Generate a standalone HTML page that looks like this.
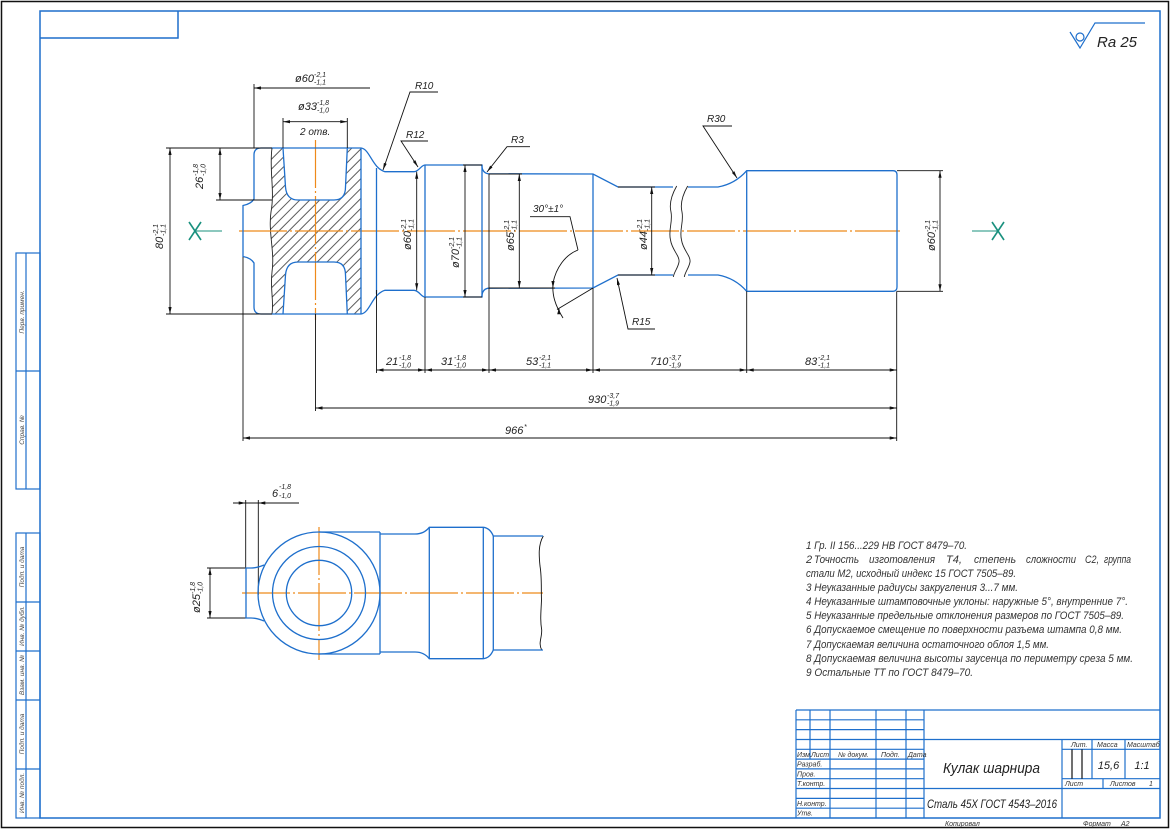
<!DOCTYPE html>
<html><head><meta charset="utf-8"><style>
html,body{margin:0;padding:0;background:#fff}
svg{display:block}
text{font-family:"Liberation Sans",sans-serif;font-style:italic;fill:#222}
.d{font-size:11px}
.t{font-size:7px}
.r{font-size:10px}
.n{font-size:11px;fill:#333}
.s{font-size:6.5px;fill:#444}
.tb{font-size:7px;fill:#333}
</style></head><body>
<svg width="1172" height="830" viewBox="0 0 1172 830" xmlns="http://www.w3.org/2000/svg">
<defs>
<pattern id="hatch" width="7" height="7" patternUnits="userSpaceOnUse" patternTransform="rotate(45)">
<line x1="3.5" y1="-1" x2="3.5" y2="8" stroke="#333" stroke-width="0.8"/>
</pattern>
<path id="up" d="M243,231 L243,205.5 Q251,204 254,199 L254,155 Q254,148 261,148 L361,148 C370,149 372,168 385,171.7 L414,171.7 C419,171.7 421,165 425,165 L482,165 L482,167 Q483,173.5 489,173.8 L593,174 L618,187 L673,187 M688,187 L718,187 Q735,184 746.7,170.7 L893,170.7 Q897,170.7 897,175 L897,231"/>
<path id="hole" d="M283,148 L285.5,187 Q286.5,200 298,200 L334,200 Q345.5,200 345.5,187 L347.3,148"/>
<path id="brk" d="M676.7,186 C671,196 669,204 671,212 C673,222 668,230 670.5,240 C672,250 680,256 679,262 C678,268 674,272 673.3,277"/>
</defs>
<rect width="1172" height="830" fill="#fff"/>

<!-- frames -->
<rect x="1.5" y="1.5" width="1167" height="826" fill="none" stroke="#111" stroke-width="1.5"/>
<rect x="40" y="11" width="1120" height="807" fill="none" stroke="#1e6fcc" stroke-width="1.5"/>
<polyline points="40,38 178,38 178,11" fill="none" stroke="#1e6fcc" stroke-width="1.5"/>

<!-- left stamps -->
<g stroke="#1e6fcc" stroke-width="1.2" fill="none">
<rect x="16" y="253" width="24" height="236"/>
<line x1="26" y1="253" x2="26" y2="489"/>
<line x1="16" y1="371" x2="40" y2="371"/>
<rect x="16" y="533" width="24" height="285"/>
<line x1="26" y1="533" x2="26" y2="818"/>
<line x1="16" y1="602" x2="40" y2="602"/>
<line x1="16" y1="651" x2="40" y2="651"/>
<line x1="16" y1="700" x2="40" y2="700"/>
<line x1="16" y1="769" x2="40" y2="769"/>
</g>
<g text-anchor="middle">
<text class="s" transform="translate(24,312) rotate(-90)">Перв. примен.</text>
<text class="s" transform="translate(24,430) rotate(-90)">Справ. №</text>
<text class="s" transform="translate(24,567) rotate(-90)">Подп. и дата</text>
<text class="s" transform="translate(24,626) rotate(-90)">Инв. № дубл.</text>
<text class="s" transform="translate(24,675) rotate(-90)">Взам. инв. №</text>
<text class="s" transform="translate(24,734) rotate(-90)">Подп. и дата</text>
<text class="s" transform="translate(24,793) rotate(-90)">Инв. № подл.</text>
</g>

<!-- Ra symbol -->
<g stroke="#1e6fcc" stroke-width="1.2" fill="none">
<circle cx="1080" cy="37" r="4"/>
<polyline points="1070,32 1080,48 1095,23 1145,23"/>
</g>
<text x="1097" y="47" style="font-size:15px">Ra 25</text>

<!-- TOP VIEW -->
<path fill="url(#hatch)" fill-rule="evenodd" d="M272,148 C269,170 275,190 271,212 C268,232 275,252 272,272 C270,290 274,300 272,314 L361,314 L361,148 Z M283,148 L285.5,187 Q286.5,200 298,200 L334,200 Q345.5,200 345.5,187 L347.3,148 Z M283,314 L285.5,275 Q286.5,262 298,262 L334,262 Q345.5,262 345.5,275 L347.3,314 Z"/>
<path d="M272,148 C269,170 275,190 271,212 C268,232 275,252 272,272 C270,290 274,300 272,314" fill="none" stroke="#222" stroke-width="0.9"/>

<!-- centerlines -->
<g stroke="#ee8a1a" stroke-width="1.2" stroke-dasharray="48 3 2 3" fill="none">
<line x1="239" y1="231" x2="900" y2="231"/>
<line x1="315.5" y1="140" x2="315.5" y2="320"/>
<line x1="242" y1="593" x2="543" y2="593"/>
<line x1="319" y1="527" x2="319" y2="660"/>
</g>

<g stroke="#1e6fcc" stroke-width="1.3" fill="none">
<use href="#up"/>
<use href="#up" transform="matrix(1 0 0 -1 0 462)"/>
<use href="#hole"/>
<use href="#hole" transform="matrix(1 0 0 -1 0 462)"/>
<line x1="361" y1="148" x2="361" y2="314"/>
<line x1="376.5" y1="168" x2="376.5" y2="294"/>
<line x1="425" y1="165" x2="425" y2="297"/>
<line x1="482" y1="165" x2="482" y2="297"/>
<line x1="593" y1="174" x2="593" y2="288"/>
<line x1="746.7" y1="170.7" x2="746.7" y2="291.3"/>
</g>
<g stroke="#222" stroke-width="0.9" fill="none">
<use href="#brk"/>
<use href="#brk" transform="translate(11,0)"/>
</g>

<!-- X markers -->
<g stroke="#19907e" fill="none">
<line x1="195" y1="231" x2="222" y2="231" stroke-width="1"/>
<line x1="189" y1="222" x2="201" y2="240" stroke-width="1.6"/>
<line x1="201" y1="222" x2="189" y2="240" stroke-width="1.6"/>
<line x1="972" y1="231" x2="998" y2="231" stroke-width="1"/>
<line x1="992" y1="222" x2="1004" y2="240" stroke-width="1.6"/>
<line x1="1004" y1="222" x2="992" y2="240" stroke-width="1.6"/>
</g>

<!-- dimension lines (black) -->
<g stroke="#111" stroke-width="0.9" fill="none">
<line x1="166" y1="148" x2="272" y2="148"/>
<line x1="166" y1="314" x2="272" y2="314"/>
<line x1="216" y1="200" x2="272" y2="200"/>
<line x1="170" y1="148" x2="170" y2="314"/>
<line x1="220" y1="148" x2="220" y2="200"/>
<line x1="254" y1="84" x2="254" y2="148"/>
<line x1="254" y1="88" x2="370" y2="88"/>
<line x1="283" y1="118" x2="283" y2="148"/>
<line x1="347.3" y1="118" x2="347.3" y2="148"/>
<line x1="283" y1="121.7" x2="347.3" y2="121.7"/>
<line x1="416.7" y1="171.7" x2="416.7" y2="290.3"/>
<line x1="463" y1="165" x2="482" y2="165"/>
<line x1="463" y1="297" x2="482" y2="297"/>
<line x1="465" y1="165" x2="465" y2="297"/>
<line x1="489" y1="174" x2="522" y2="174"/>
<line x1="489" y1="288" x2="555" y2="288"/>
<line x1="519.3" y1="174" x2="519.3" y2="288"/>
<line x1="618" y1="187" x2="655" y2="187"/>
<line x1="618" y1="275" x2="655" y2="275"/>
<line x1="651.7" y1="187" x2="651.7" y2="275"/>
<line x1="897" y1="170.7" x2="943" y2="170.7"/>
<line x1="897" y1="291.3" x2="943" y2="291.3"/>
<line x1="940" y1="170.7" x2="940" y2="291.3"/>
<line x1="376.5" y1="290" x2="376.5" y2="373"/>
<line x1="425" y1="297" x2="425" y2="373"/>
<line x1="489" y1="174" x2="489" y2="373"/>
<line x1="593" y1="288" x2="593" y2="373"/>
<line x1="746.7" y1="291.3" x2="746.7" y2="373"/>
<line x1="896.7" y1="291.3" x2="896.7" y2="441"/>
<line x1="315.5" y1="314" x2="315.5" y2="411"/>
<line x1="243" y1="257" x2="243" y2="441"/>
<line x1="376.5" y1="370" x2="896.7" y2="370"/>
<line x1="315.5" y1="408" x2="896.7" y2="408"/>
<line x1="243" y1="438" x2="896.7" y2="438"/>
<polyline points="438,92 410,92 383,170"/>
<polyline points="428,141 401,141 418,167"/>
<polyline points="530,146.7 507,146.7 487,172"/>
<polyline points="732,126 703,126 737,178"/>
<polyline points="655,329 628,329 617,278"/>
<polyline points="530,216.7 570,216.7 578,250"/>
<path d="M578,250 C565,255 556,268 553,283 C552,295 555,305 563,318"/>
<line x1="593" y1="288" x2="557" y2="309.5"/>
<line x1="245.7" y1="500" x2="245.7" y2="568"/>
<line x1="258.3" y1="500" x2="258.3" y2="595"/>
<line x1="233" y1="503" x2="299" y2="503"/>
<line x1="207" y1="568" x2="246" y2="568"/>
<line x1="207" y1="618" x2="246" y2="618"/>
<line x1="210" y1="568" x2="210" y2="618"/>
<path d="M543.3,536 C538,545 539,556 540,566 C542,578 541,590 541.5,600 C541,612 540,620 541.7,630 C542,638 538,643 541.7,650"/>
</g>

<!-- arrows -->
<g fill="#111" stroke="none">
<path d="M170,148 L168.4,155 L171.6,155 Z M170,314 L168.4,307 L171.6,307 Z"/>
<path d="M220,148 L218.4,155 L221.6,155 Z M220,200 L218.4,193 L221.6,193 Z"/>
<path d="M416.7,171.7 L415.1,178.7 L418.3,178.7 Z M416.7,290.3 L415.1,283.3 L418.3,283.3 Z"/>
<path d="M465,165 L463.4,172 L466.6,172 Z M465,297 L463.4,290 L466.6,290 Z"/>
<path d="M519.3,174 L517.7,181 L520.9,181 Z M519.3,288 L517.7,281 L520.9,281 Z"/>
<path d="M651.7,187 L650.1,194 L653.3,194 Z M651.7,275 L650.1,268 L653.3,268 Z"/>
<path d="M940,170.7 L938.4,177.7 L941.6,177.7 Z M940,291.3 L938.4,284.3 L941.6,284.3 Z"/>
<path d="M210,568 L208.4,575 L211.6,575 Z M210,618 L208.4,611 L211.6,611 Z"/>
<path d="M254,88 L261,86.4 L261,89.6 Z"/>
<path d="M283,121.7 L290,120.1 L290,123.3 Z M347.3,121.7 L340.3,120.1 L340.3,123.3 Z"/>
<path d="M376.5,370 L383.5,368.4 L383.5,371.6 Z M425,370 L418,368.4 L418,371.6 Z"/>
<path d="M425,370 L432,368.4 L432,371.6 Z M489,370 L482,368.4 L482,371.6 Z"/>
<path d="M489,370 L496,368.4 L496,371.6 Z M593,370 L586,368.4 L586,371.6 Z"/>
<path d="M593,370 L600,368.4 L600,371.6 Z M746.7,370 L739.7,368.4 L739.7,371.6 Z"/>
<path d="M746.7,370 L753.7,368.4 L753.7,371.6 Z M896.7,370 L889.7,368.4 L889.7,371.6 Z"/>
<path d="M315.5,408 L322.5,406.4 L322.5,409.6 Z M896.7,408 L889.7,406.4 L889.7,409.6 Z"/>
<path d="M243,438 L250,436.4 L250,439.6 Z M896.7,438 L889.7,436.4 L889.7,439.6 Z"/>
<path d="M245.7,503 L238.7,501.4 L238.7,504.6 Z M258.3,503 L265.3,501.4 L265.3,504.6 Z"/>
<path d="M383,170 L383.9,162.9 L386.7,163.9 Z"/>
<path d="M418,167 L412.9,161.9 L415.4,160.3 Z"/>
<path d="M487,172 L490.2,165.6 L492.5,167.4 Z"/>
<path d="M737,178 L731.9,172.9 L734.4,171.3 Z"/>
<path d="M617,278 L620,284.5 L617,285.2 Z"/>
<path d="M553,288 L551.4,281 L554.6,281 Z"/>
<path d="M559,307.5 L557.2,314.3 L560.6,314.3 Z"/>
</g>

<!-- dimension texts -->
<g transform="translate(295,82)"><text class="d">ø60</text><text class="t" x="19" y="-5">-2,1</text><text class="t" x="19" y="2.5">-1,1</text></g>
<g transform="translate(298,110)"><text class="d">ø33</text><text class="t" x="19" y="-5">-1,8</text><text class="t" x="19" y="2.5">-1,0</text></g>
<text class="r" x="300" y="135">2 отв.</text>
<g transform="translate(386,365)"><text class="d">21</text><text class="t" x="13" y="-5">-1,8</text><text class="t" x="13" y="2.5">-1,0</text></g>
<g transform="translate(441,365)"><text class="d">31</text><text class="t" x="13" y="-5">-1,8</text><text class="t" x="13" y="2.5">-1,0</text></g>
<g transform="translate(526,365)"><text class="d">53</text><text class="t" x="13" y="-5">-2,1</text><text class="t" x="13" y="2.5">-1,1</text></g>
<g transform="translate(650,365)"><text class="d">710</text><text class="t" x="19" y="-5">-3,7</text><text class="t" x="19" y="2.5">-1,9</text></g>
<g transform="translate(805,365)"><text class="d">83</text><text class="t" x="13" y="-5">-2,1</text><text class="t" x="13" y="2.5">-1,1</text></g>
<g transform="translate(588,403)"><text class="d">930</text><text class="t" x="19" y="-5">-3,7</text><text class="t" x="19" y="2.5">-1,9</text></g>
<text class="d" x="505" y="434">966</text><text class="t" x="524" y="429">*</text>
<g transform="translate(272,497)"><text class="d">6</text><text class="t" x="7" y="-8">-1,8</text><text class="t" x="7" y="1">-1,0</text></g>

<g transform="translate(163,249) rotate(-90)"><text class="d">80</text><text class="t" x="13" y="-5">-2,1</text><text class="t" x="13" y="2.5">-1,1</text></g>
<g transform="translate(203,189) rotate(-90)"><text class="d">26</text><text class="t" x="13" y="-5">-1,8</text><text class="t" x="13" y="2.5">-1,0</text></g>
<g transform="translate(411,250) rotate(-90)"><text class="d">ø60</text><text class="t" x="19" y="-5">-2,1</text><text class="t" x="19" y="2.5">-1,1</text></g>
<g transform="translate(459,268) rotate(-90)"><text class="d">ø70</text><text class="t" x="19" y="-5">-2,1</text><text class="t" x="19" y="2.5">-1,1</text></g>
<g transform="translate(514,251) rotate(-90)"><text class="d">ø65</text><text class="t" x="19" y="-5">-2,1</text><text class="t" x="19" y="2.5">-1,1</text></g>
<g transform="translate(647,250) rotate(-90)"><text class="d">ø44</text><text class="t" x="19" y="-5">-2,1</text><text class="t" x="19" y="2.5">-1,1</text></g>
<g transform="translate(935,251) rotate(-90)"><text class="d">ø60</text><text class="t" x="19" y="-5">-2,1</text><text class="t" x="19" y="2.5">-1,1</text></g>
<g transform="translate(200,613) rotate(-90)"><text class="d">ø25</text><text class="t" x="19" y="-5">-1,8</text><text class="t" x="19" y="2.5">-1,0</text></g>

<text class="r" x="415" y="89">R10</text>
<text class="r" x="406" y="138">R12</text>
<text class="r" x="511" y="143">R3</text>
<text class="r" x="707" y="122">R30</text>
<text class="r" x="632" y="325">R15</text>
<text class="r" x="533" y="212">30°±1°</text>

<!-- LOWER VIEW -->
<g stroke="#1e6fcc" stroke-width="1.3" fill="none">
<circle cx="319" cy="593" r="61"/>
<circle cx="319" cy="593" r="46.5"/>
<circle cx="319" cy="593" r="32.7"/>
<line x1="319" y1="532" x2="380" y2="532"/>
<line x1="319" y1="654" x2="380" y2="654"/>
<line x1="380" y1="532" x2="380" y2="654"/>
<path d="M264,565 Q257,568 251,568 L246,568 L246,618 L251,618 Q257,618 264,621"/>
<path d="M380,534 L415,534 Q424,534 429.3,527.3 L483.3,527.3 Q490,528 493.3,536 L543,536"/>
<path d="M380,652 L415,652 Q424,652 429.3,658.7 L483.3,658.7 Q490,658 493.3,650 L543,650"/>
<line x1="429.3" y1="527.3" x2="429.3" y2="658.7"/>
<line x1="483.3" y1="527.3" x2="483.3" y2="658.7"/>
<line x1="493.3" y1="536" x2="493.3" y2="650"/>
</g>

<!-- NOTES -->
<text class="n" x="806" y="549" textLength="161" lengthAdjust="spacingAndGlyphs">1 Гр. II 156...229 НВ ГОСТ 8479–70.</text>
<text class="n" x="806" y="563">2</text>
<text class="n" x="814" y="563" textLength="45" lengthAdjust="spacingAndGlyphs">Точность</text>
<text class="n" x="869" y="563" textLength="66" lengthAdjust="spacingAndGlyphs">изготовления</text>
<text class="n" x="946" y="563" textLength="16" lengthAdjust="spacingAndGlyphs">Т4,</text>
<text class="n" x="974" y="563" textLength="42" lengthAdjust="spacingAndGlyphs">степень</text>
<text class="n" x="1026" y="563" textLength="50" lengthAdjust="spacingAndGlyphs">сложности</text>
<text class="n" x="1085" y="563" textLength="14" lengthAdjust="spacingAndGlyphs">С2,</text>
<text class="n" x="1104" y="563" textLength="27" lengthAdjust="spacingAndGlyphs">группа</text>
<text class="n" x="806" y="577" textLength="210" lengthAdjust="spacingAndGlyphs">стали М2, исходный индекс 15 ГОСТ 7505–89.</text>
<text class="n" x="806" y="591" textLength="212" lengthAdjust="spacingAndGlyphs">3 Неуказанные радиусы закругления 3...7 мм.</text>
<text class="n" x="806" y="605" textLength="322" lengthAdjust="spacingAndGlyphs">4 Неуказанные штамповочные уклоны: наружные 5°, внутренние 7°.</text>
<text class="n" x="806" y="619" textLength="318" lengthAdjust="spacingAndGlyphs">5 Неуказанные предельные отклонения размеров по ГОСТ 7505–89.</text>
<text class="n" x="806" y="633" textLength="316" lengthAdjust="spacingAndGlyphs">6 Допускаемое смещение по поверхности разъема штампа 0,8 мм.</text>
<text class="n" x="806" y="648" textLength="243" lengthAdjust="spacingAndGlyphs">7 Допускаемая величина остаточного облоя 1,5 мм.</text>
<text class="n" x="806" y="662" textLength="327" lengthAdjust="spacingAndGlyphs">8 Допускаемая величина высоты заусенца по периметру среза 5 мм.</text>
<text class="n" x="806" y="676" textLength="167" lengthAdjust="spacingAndGlyphs">9 Остальные ТТ по ГОСТ 8479–70.</text>

<!-- TITLE BLOCK -->
<g stroke="#1e6fcc" stroke-width="1.2" fill="none">
<line x1="796" y1="710" x2="1160" y2="710"/>
<line x1="796" y1="710" x2="796" y2="818"/>
<line x1="796" y1="719.8" x2="924" y2="719.8"/>
<line x1="796" y1="729.6" x2="924" y2="729.6"/>
<line x1="796" y1="739.5" x2="1160" y2="739.5"/>
<line x1="796" y1="749.3" x2="924" y2="749.3"/>
<line x1="1062" y1="749.3" x2="1160" y2="749.3"/>
<line x1="796" y1="759.1" x2="924" y2="759.1"/>
<line x1="796" y1="768.9" x2="924" y2="768.9"/>
<line x1="796" y1="778.7" x2="924" y2="778.7"/>
<line x1="1062" y1="778.7" x2="1160" y2="778.7"/>
<line x1="796" y1="788.5" x2="1160" y2="788.5"/>
<line x1="796" y1="798.4" x2="924" y2="798.4"/>
<line x1="796" y1="808.2" x2="924" y2="808.2"/>
<line x1="810" y1="710" x2="810" y2="759.1"/>
<line x1="830" y1="710" x2="830" y2="818"/>
<line x1="876" y1="710" x2="876" y2="818"/>
<line x1="906" y1="710" x2="906" y2="818"/>
<line x1="924" y1="710" x2="924" y2="818"/>
<line x1="1062" y1="739.5" x2="1062" y2="818"/>
<line x1="1092" y1="739.5" x2="1092" y2="778.7"/>
<line x1="1125" y1="739.5" x2="1125" y2="778.7"/>
<line x1="1103" y1="778.7" x2="1103" y2="788.5"/>
</g>
<g stroke="#111" stroke-width="1.2">
<line x1="1072" y1="749.3" x2="1072" y2="778.7"/>
<line x1="1082" y1="749.3" x2="1082" y2="778.7"/>
</g>
<text class="tb" x="797" y="757">Изм.</text>
<text class="tb" x="811" y="757">Лист</text>
<text class="tb" x="838" y="757">№ докум.</text>
<text class="tb" x="881" y="757">Подп.</text>
<text class="tb" x="908" y="757">Дата</text>
<text class="tb" x="797" y="766.5">Разраб.</text>
<text class="tb" x="797" y="776.3">Пров.</text>
<text class="tb" x="797" y="786">Т.контр.</text>
<text class="tb" x="797" y="805.8">Н.контр.</text>
<text class="tb" x="797" y="815.6">Утв.</text>
<text x="943" y="773" style="font-size:15px" textLength="97" lengthAdjust="spacingAndGlyphs">Кулак шарнира</text>
<text x="927" y="808" style="font-size:12px" textLength="130" lengthAdjust="spacingAndGlyphs">Сталь 45Х ГОСТ 4543–2016</text>
<text class="tb" x="1071" y="747">Лит.</text>
<text class="tb" x="1097" y="747">Масса</text>
<text class="tb" x="1127" y="747">Масштаб</text>
<text x="1108.5" y="769" text-anchor="middle" style="font-size:11px">15,6</text>
<text x="1142" y="769" text-anchor="middle" style="font-size:11px">1:1</text>
<text class="tb" x="1065" y="786">Лист</text>
<text class="tb" x="1110" y="786">Листов</text>
<text class="tb" x="1149" y="786">1</text>
<text class="tb" x="945" y="826">Копировал</text>
<text class="tb" x="1083" y="826">Формат</text>
<text class="tb" x="1121" y="826">A2</text>
</svg>
</body></html>
